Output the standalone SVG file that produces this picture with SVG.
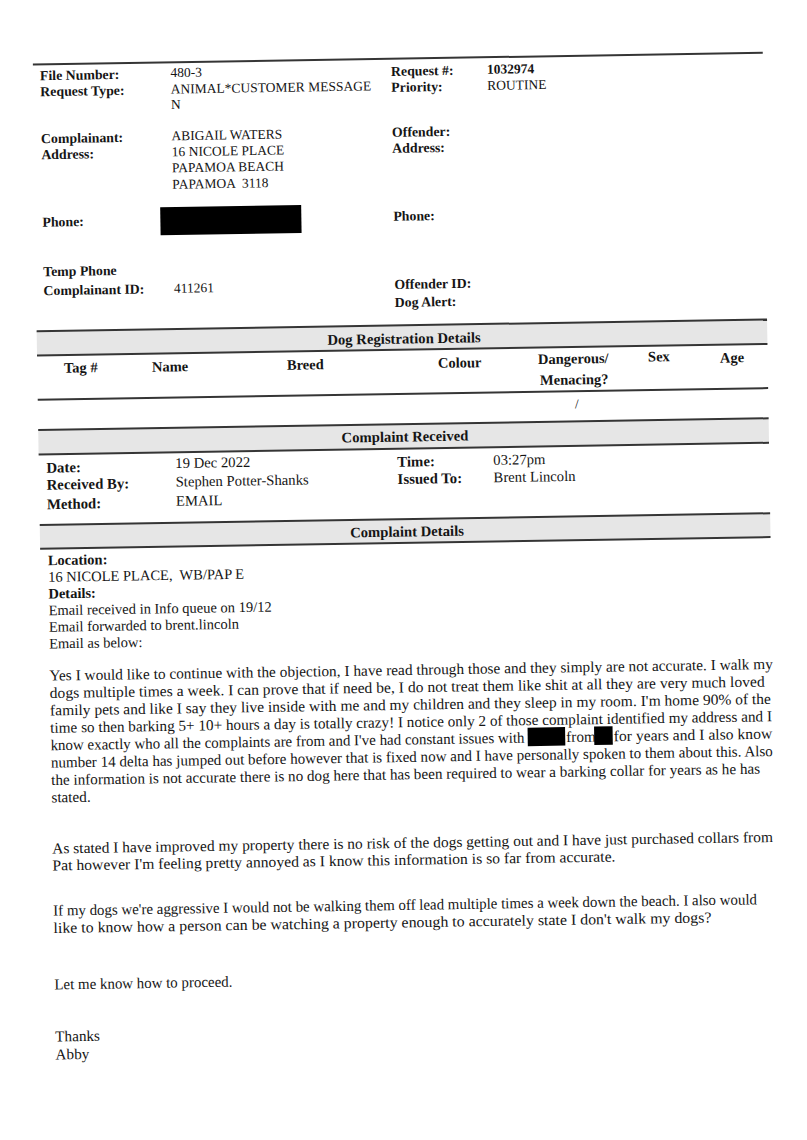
<svg xmlns="http://www.w3.org/2000/svg" width="807" height="1140" viewBox="0 0 807 1140">
<style>
text{font-family:"Liberation Serif","Times New Roman",serif;fill:#151515;white-space:pre}
.lb{font-weight:bold;font-size:13.8px}
.v{font-size:13.5px}
.lb2{font-weight:bold;font-size:14.8px}
.v2{font-size:14.7px}
.ttl{font-weight:bold;font-size:14.7px;text-anchor:middle}
.ch{font-weight:bold;font-size:14.5px}
.loc{font-size:14.5px}
.locb{font-size:14.5px;font-weight:bold}
.b{font-size:15.2px}
.rule{stroke:#353535;stroke-width:2;fill:none}
.band{fill:#e6e6e6}
.red{fill:#000}
</style>
<rect width="807" height="1140" fill="#ffffff"/>
<g transform="rotate(-0.917 400 570)">
<g id="connectors">
<line class="rule" x1="41" y1="58.7" x2="771" y2="58.7" stroke-width="2.4" stroke="#505050"/>
</g>
<g id="header">
<text class="lb" x="48" y="74.5">File Number:</text>
<text class="lb" x="48" y="90.5">Request Type:</text>
<text class="v" x="178.5" y="73.5">480-3</text>
<text class="v" x="178.5" y="90">ANIMAL*CUSTOMER MESSAGE</text>
<text class="v" x="178.5" y="105.5">N</text>
<text class="lb" x="399" y="75.8">Request #:</text>
<text class="lb" x="399" y="91.8">Priority:</text>
<text class="lb" x="495" y="75.3" style="font-size:13.5px">1032974</text>
<text class="v" x="495" y="91.4">ROUTINE</text>
</g>
<g id="complainant">
<text class="lb" x="48" y="137.5">Complainant:</text>
<text class="lb" x="48" y="153.5">Address:</text>
<text class="v" x="178.5" y="136.7">ABIGAIL WATERS</text>
<text class="v" x="178.5" y="152.7">16 NICOLE PLACE</text>
<text class="v" x="178.5" y="168.7">PAPAMOA BEACH</text>
<text class="v" x="178.5" y="185.2">PAPAMOA  3118</text>
<text class="lb" x="399" y="136.8">Offender:</text>
<text class="lb" x="399" y="152.8">Address:</text>
<text class="lb" x="48" y="221">Phone:</text>
<rect class="red" x="166" y="203.5" width="141" height="28"/>
<text class="lb" x="399" y="220.7">Phone:</text>
<text class="lb" x="48" y="270.5">Temp Phone</text>
<text class="lb" x="48" y="289.5">Complainant ID:</text>
<text class="v" x="178.5" y="289.2">411261</text>
<text class="lb" x="399" y="288.9">Offender ID:</text>
<text class="lb" x="399" y="306.9">Dog Alert:</text>
</g>
<g id="dog-registration">
<rect class="band" x="40.5" y="325.4" width="730.5" height="24.4"/>
<line class="rule" x1="40.5" y1="325.4" x2="771" y2="325.4"/>
<line class="rule" x1="40.5" y1="349.8" x2="771" y2="349.8"/>
<text class="ttl" x="407.7" y="343.6">Dog Registration Details</text>
<text class="ch" x="67.2" y="367.4">Tag #</text>
<text class="ch" x="155.2" y="367.8">Name</text>
<text class="ch" x="290.2" y="368">Breed</text>
<text class="ch" x="441.2" y="368.5">Colour</text>
<text class="ch" x="541.3" y="366.3">Dangerous/</text>
<text class="ch" x="543" y="387.3">Menacing?</text>
<text class="ch" x="651.4" y="365.6">Sex</text>
<text class="ch" x="723.4" y="367.8">Age</text>
<line class="rule" x1="40.5" y1="394" x2="771" y2="394"/>
<text class="v" x="577.6" y="411.3">/</text>
</g>
<g id="complaint-received">
<rect class="band" x="40.5" y="424.2" width="730.5" height="24.5"/>
<line class="rule" x1="40.5" y1="424.2" x2="771" y2="424.2"/>
<line class="rule" x1="40.5" y1="448.7" x2="771" y2="448.7"/>
<text class="ttl" x="407.1" y="441.6">Complaint Received</text>
<text class="lb2" x="48" y="467">Date:</text>
<text class="lb2" x="48" y="484">Received By:</text>
<text class="lb2" x="48" y="503.5">Method:</text>
<text class="v2" x="177" y="464.5">19 Dec 2022</text>
<text class="v2" x="177" y="483">Stephen Potter-Shanks</text>
<text class="v2" x="177" y="502.3">EMAIL</text>
<text class="lb2" x="399" y="466.7">Time:</text>
<text class="lb2" x="399" y="484">Issued To:</text>
<text class="v2" x="495" y="466.4">03:27pm</text>
<text class="v2" x="495" y="483.7">Brent Lincoln</text>
</g>
<g id="complaint-details">
<rect class="band" x="40.5" y="519.2" width="730.5" height="23.8"/>
<line class="rule" x1="40.5" y1="519.2" x2="771" y2="519.2"/>
<line class="rule" x1="40.5" y1="543" x2="771" y2="543"/>
<text class="ttl" x="407.6" y="536.6">Complaint Details</text>
<text class="locb" x="48" y="559.5">Location:</text>
<text class="loc" x="48" y="576.2">16 NICOLE PLACE,  WB/PAP E</text>
<text class="locb" x="48" y="592.8">Details:</text>
<text class="loc" x="48" y="609.5">Email received in Info queue on 19/12</text>
<text class="loc" x="48" y="626.1">Email forwarded to brent.lincoln</text>
<text class="loc" x="48" y="642.8">Email as below:</text>
</g>
<g id="email-body">
<text class="b" x="47.8" y="675" textLength="723.5" lengthAdjust="spacingAndGlyphs">Yes I would like to continue with the objection, I have read through those and they simply are not accurate. I walk my</text>
<text class="b" x="47.8" y="692.4" textLength="715" lengthAdjust="spacingAndGlyphs">dogs multiple times a week. I can prove that if need be, I do not treat them like shit at all they are very much loved</text>
<text class="b" x="47.8" y="709.8" textLength="721" lengthAdjust="spacingAndGlyphs">family pets and like I say they live inside with me and my children and they sleep in my room. I'm home 90% of the</text>
<text class="b" x="47.8" y="727.2" textLength="721.7" lengthAdjust="spacingAndGlyphs">time so then barking 5+ 10+ hours a day is totally crazy! I notice only 2 of those complaint identified my address and I</text>
<text class="b" x="47.8" y="744.6" textLength="474" lengthAdjust="spacingAndGlyphs">know exactly who all the complaints are from and I've had constant issues with</text>
<rect class="red" x="525" y="729.7" width="37.5" height="18.5"/>
<text class="b" x="563.5" y="744.6">from</text>
<rect class="red" x="591.5" y="729.7" width="18.5" height="18.5"/>
<text class="b" x="611" y="744.6" textLength="158.5" lengthAdjust="spacingAndGlyphs">for years and I also know</text>
<text class="b" x="47.8" y="762" textLength="722" lengthAdjust="spacingAndGlyphs">number 14 delta has jumped out before however that is fixed now and I have personally spoken to them about this. Also</text>
<text class="b" x="47.8" y="779.4" textLength="709" lengthAdjust="spacingAndGlyphs">the information is not accurate there is no dog here that has been required to wear a barking collar for years as he has</text>
<text class="b" x="47.8" y="796.8">stated.</text>
<text class="b" x="47.8" y="847.9" textLength="720.8" lengthAdjust="spacingAndGlyphs">As stated I have improved my property there is no risk of the dogs getting out and I have just purchased collars from</text>
<text class="b" x="47.8" y="864.9" textLength="563" lengthAdjust="spacingAndGlyphs">Pat however I'm feeling pretty annoyed as I know this information is so far from accurate.</text>
<text class="b" x="47.8" y="910" textLength="703.8" lengthAdjust="spacingAndGlyphs">If my dogs we're aggressive I would not be walking them off lead multiple times a week down the beach. I also would</text>
<text class="b" x="47.8" y="927.4" textLength="658" lengthAdjust="spacingAndGlyphs">like to know how a person can be watching a property enough to accurately state I don't walk my dogs?</text>
<text class="b" x="47.8" y="983.9" textLength="178" lengthAdjust="spacingAndGlyphs">Let me know how to proceed.</text>
<text class="b" x="47.8" y="1035.9">Thanks</text>
<text class="b" x="47.8" y="1053.9">Abby</text>
</g>
</g>
</svg>
